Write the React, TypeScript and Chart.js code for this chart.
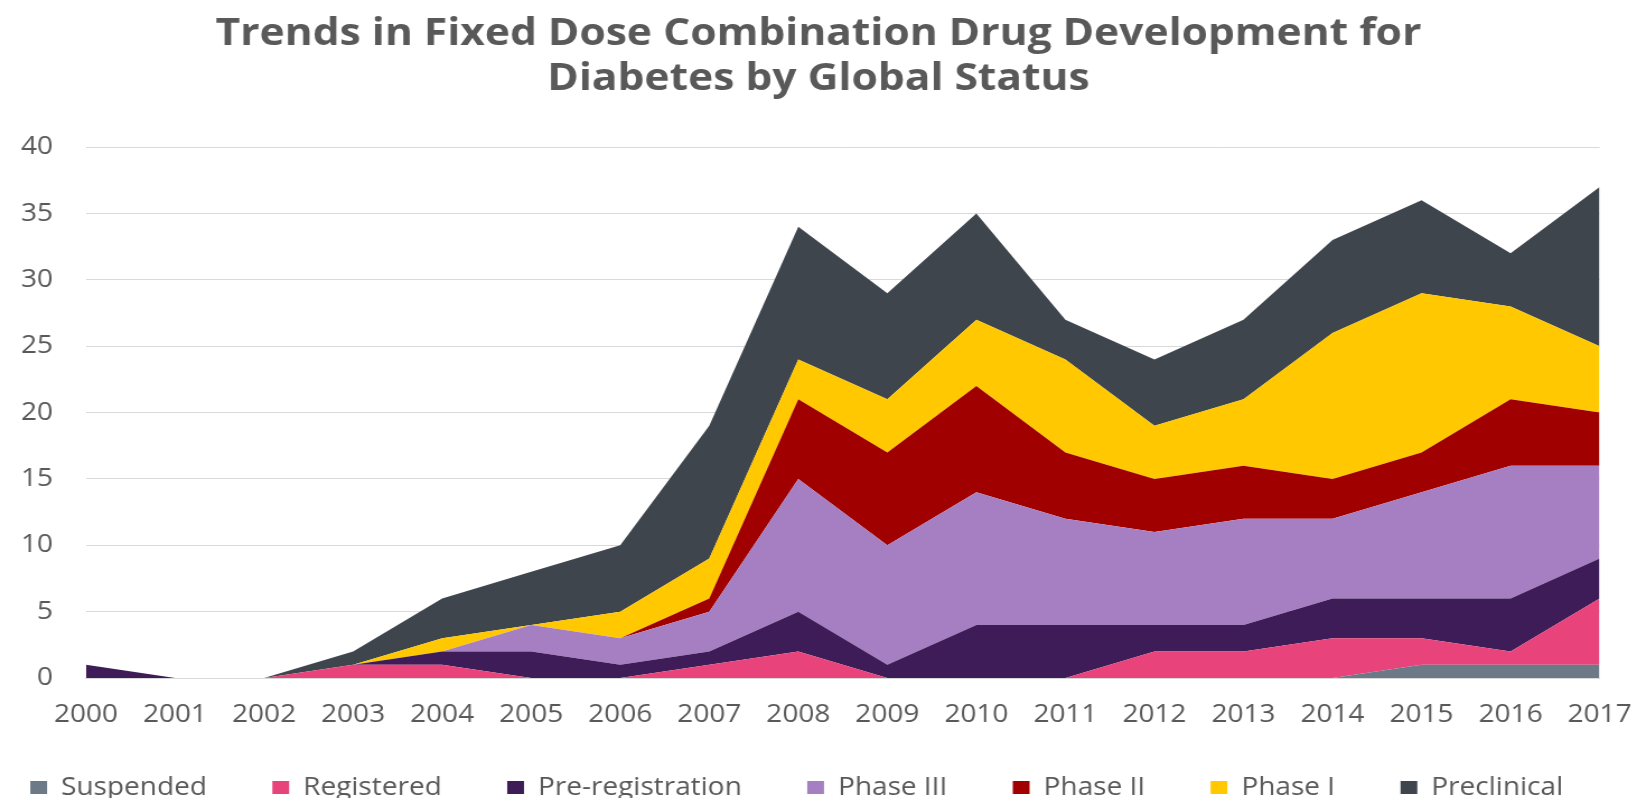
import { useEffect, useRef } from 'react';
import { Chart, registerables } from 'chart.js';

Chart.register(...registerables);

// Year categories on the x axis
const years = [
  '2000', '2001', '2002', '2003', '2004', '2005', '2006', '2007', '2008',
  '2009', '2010', '2011', '2012', '2013', '2014', '2015', '2016', '2017',
];

// Number of fixed dose combination drugs per status, per year (stacked bottom to top)
const suspended = [0, 0, 0, 0, 0, 0, 0, 0, 0, 0, 0, 0, 0, 0, 0, 1, 1, 1];
const registered = [0, 0, 0, 1, 1, 0, 0, 1, 2, 0, 0, 0, 2, 2, 3, 2, 1, 5];
const preRegistration = [1, 0, 0, 0, 1, 2, 1, 1, 3, 1, 4, 4, 2, 2, 3, 3, 4, 3];
const phaseIII = [0, 0, 0, 0, 0, 2, 2, 3, 10, 9, 10, 8, 7, 8, 6, 8, 10, 7];
const phaseII = [0, 0, 0, 0, 0, 0, 0, 1, 6, 7, 8, 5, 4, 4, 3, 3, 5, 4];
const phaseI = [0, 0, 0, 0, 1, 0, 2, 3, 3, 4, 5, 7, 4, 5, 11, 12, 7, 5];
const preclinical = [0, 0, 0, 1, 3, 4, 5, 10, 10, 8, 8, 3, 5, 6, 7, 7, 4, 12];

const seriesNames = [
  'Suspended', 'Registered', 'Pre-registration', 'Phase III', 'Phase II', 'Phase I', 'Preclinical',
];
const seriesValues = [suspended, registered, preRegistration, phaseIII, phaseII, phaseI, preclinical];
const seriesColors = ['#6c7987', '#e8437b', '#3e1c57', '#a57fc1', '#a00000', '#ffc800', '#3e454d'];

// Value axis ticks
const yMin = 0;
const yMax = 40;
const yStep = 5;

const titleLines = ['Trends in Fixed Dose Combination Drug Development for', 'Diabetes by Global Status'];

// The canvas is drawn narrower than it is displayed, giving the wide lettering of the original
const DRAW_W = 1462;
const DRAW_H = 798;
const SHOW_W = 1637;

const FONT = "'Open Sans', 'DejaVu Sans', sans-serif";
const TEXT_COLOR = '#595959';
const GRID_COLOR = '#d9d9d9';

export default function App() {
  const canvasRef = useRef<HTMLCanvasElement>(null);

  useEffect(() => {
    document.body.style.margin = '0';
    const canvas = canvasRef.current;
    if (!canvas) return;

    const chart = new Chart(canvas, {
      type: 'line',
      data: {
        labels: years,
        datasets: seriesNames.map((name, i) => ({
          label: name,
          data: seriesValues[i],
          backgroundColor: seriesColors[i],
          borderColor: seriesColors[i],
          borderWidth: 0,
          pointRadius: 0,
          pointHoverRadius: 0,
          tension: 0,
          fill: i === 0 ? 'origin' : '-1',
        })),
      },
      options: {
        responsive: false,
        animation: false,
        devicePixelRatio: 1,
        layout: { padding: { top: 0, left: 0, right: 0, bottom: -12 } },
        plugins: {
          title: {
            display: true,
            text: titleLines,
            color: TEXT_COLOR,
            font: { family: FONT, size: 38, weight: 'bold', lineHeight: 1.2 },
            padding: { top: 11, bottom: 45 },
          },
          legend: {
            position: 'bottom',
            labels: {
              color: TEXT_COLOR,
              font: { family: FONT, size: 25 },
              boxWidth: 15,
              boxHeight: 13,
              padding: 6.5,
              generateLabels: (c: Chart) => {
                const items = Chart.defaults.plugins.legend.labels.generateLabels(c);
                return items.map((item, i) => ({
                  ...item,
                  lineWidth: 0,
                  text: item.text + (i < items.length - 1 ? '        ' : '      '),
                }));
              },
            },
          },
          tooltip: { enabled: false },
        },
        scales: {
          x: {
            offset: false,
            // invisible tick marks keep the labels clear of the axis
            grid: {
              display: true,
              drawOnChartArea: false,
              drawTicks: true,
              tickLength: 22,
              tickColor: 'rgba(0,0,0,0)',
            },
            border: { display: true, color: GRID_COLOR },
            ticks: {
              color: TEXT_COLOR,
              font: { family: FONT, size: 25 },
              padding: 0,
              autoSkip: false,
              maxRotation: 0,
            },
            afterFit: (scale: any) => {
              scale.height = 90.5;
            },
          },
          y: {
            stacked: true,
            min: yMin,
            max: yMax,
            grid: { color: GRID_COLOR, lineWidth: 1, drawTicks: false },
            border: { display: false },
            ticks: {
              stepSize: yStep,
              color: TEXT_COLOR,
              font: { family: FONT, size: 25 },
              padding: 29.5,
            },
            afterFit: (scale: any) => {
              scale.width = 76.8;
            },
          },
          // Empty right-hand margin beside the plot
          yRight: {
            position: 'right',
            grid: { display: false, drawTicks: false },
            border: { display: false },
            ticks: { display: false },
            afterFit: (scale: any) => {
              scale.width = 33.4;
            },
          },
        },
      },
    });

    return () => chart.destroy();
  }, []);

  return (
    <canvas
      ref={canvasRef}
      width={DRAW_W}
      height={DRAW_H}
      style={{ display: 'block', width: `${SHOW_W}px`, height: `${DRAW_H}px` }}
    />
  );
}
